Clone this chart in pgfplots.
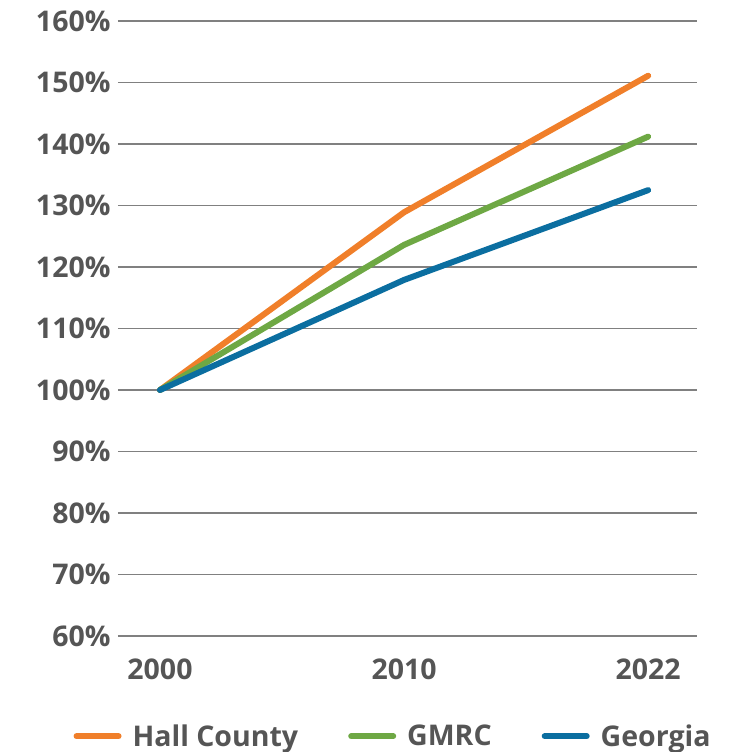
\documentclass[border=0pt]{standalone}
\usepackage{fontspec}
\setmainfont{Open Sans}[UprightFont=* Bold]
\usepackage{pgfplots}
\pgfplotsset{compat=1.18}
\definecolor{hall}{RGB}{240,127,42}
\definecolor{gmrc}{RGB}{110,168,68}
\definecolor{geo}{RGB}{11,110,160}
\definecolor{txt}{RGB}{85,85,85}
\definecolor{gridc}{RGB}{128,128,128}
\begin{document}
\begin{tikzpicture}
\begin{axis}[
    scale only axis,
    width=579pt, height=615pt,
    xmin=-0.172, xmax=2.2,
    ymin=60, ymax=160,
    xtick={0,1,2},
    xticklabels={2000,2010,2022},
    ytick={60,70,...,160},
    yticklabel={\pgfmathprintnumber{\tick}\%},
    /pgf/number format/assume math mode=true,
    ymajorgrids,
    grid style={gridc, line width=1.2pt},
    axis line style={draw=none},
    tick style={draw=none},
    tick label style={font=\fontsize{28.5}{30}\selectfont, text=txt},
    xticklabel style={yshift=-19pt},
    yticklabel style={xshift=-4pt},
    legend columns=3,
    legend style={
        at={(0.475,-0.163)}, anchor=center,
        draw=none, fill=none,
        font=\fontsize{28.5}{30}\selectfont, text=txt,
        /tikz/every even column/.append style={column sep=48pt}
    },
    legend image code/.code={\draw[#1, line width=6pt, line cap=round] (0pt,0pt) -- (42pt,0pt); \path (51pt,0pt);},
]
\addplot[hall, line width=6pt, line cap=round, line join=round] coordinates {(0,100) (1,128.9) (2,151.1)};
\addplot[gmrc, line width=6pt, line cap=round, line join=round] coordinates {(0,100) (1,123.6) (2,141.2)};
\addplot[geo, line width=6pt, line cap=round, line join=round] coordinates {(0,100) (1,117.9) (2,132.5)};
\legend{Hall County, GMRC, Georgia}
\end{axis}
\path (current axis.south west) ++(-118pt,-116pt) coordinate (bl);
\path (current axis.north east) ++(42pt,21pt) coordinate (tr);
\path[use as bounding box] (bl) rectangle (tr);
\end{tikzpicture}
\end{document}
